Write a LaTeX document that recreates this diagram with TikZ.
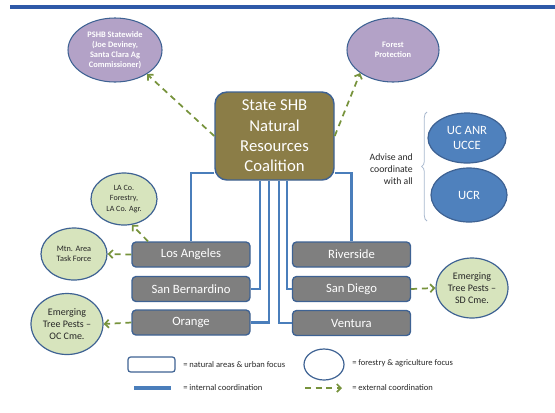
\documentclass[tikz,border=0pt]{standalone}
\usepackage{fontspec}
\setmainfont{Carlito}
\usetikzlibrary{shapes.geometric,arrows.meta,decorations.pathreplacing}
\definecolor{olive}{HTML}{8B7D47}
\definecolor{boxgray}{HTML}{7F7F7F}
\definecolor{edgeblue}{HTML}{3E6293}
\definecolor{linkblue}{HTML}{4A7EBB}
\definecolor{ucblue}{HTML}{4F81BD}
\definecolor{extgreen}{HTML}{77933C}
\definecolor{lightgreen}{HTML}{D7E4BD}
\definecolor{lilac}{HTML}{B3A2C7}
\definecolor{barblue}{HTML}{2E59A8}
\definecolor{txtdark}{HTML}{262626}
\tikzset{
  coalbox/.style={draw=edgeblue,line width=1.1pt,fill=olive,rounded corners=9pt,
    minimum width=89.25pt,minimum height=66pt,text=white,align=center,inner sep=0pt,
    font=\fontsize{12.5}{15.2}\selectfont},
  county/.style={draw=edgeblue,line width=1pt,fill=boxgray,rounded corners=3pt,
    minimum width=88.5pt,minimum height=18.75pt,text=white,inner sep=0pt,
    font=\fontsize{9.5}{11}\selectfont},
  greenell/.style={ellipse,draw=edgeblue,line width=0.9pt,fill=lightgreen,inner sep=0pt,
    align=center,text=txtdark},
  lilacell/.style={ellipse,draw=edgeblue,line width=0.8pt,fill=lilac,inner sep=0pt,
    align=center,text=white,minimum width=70pt,minimum height=48pt,
    font=\bfseries\fontsize{6.3}{7.6}\selectfont},
  ucell/.style={ellipse,draw=edgeblue,line width=0.9pt,fill=ucblue,inner sep=0pt,
    align=center,text=white,font=\fontsize{9.5}{11.25}\selectfont},
  blueline/.style={draw=linkblue,line width=2pt},
  extarrow/.style={draw=extgreen,line width=1.3pt,dash pattern=on 4.5pt off 3.5pt,
    -{Straight Barb[length=3pt,width=6pt]}},
  legtext/.style={anchor=west,inner sep=0pt,text=txtdark,font=\fontsize{6.4}{7.5}\selectfont},
}
\begin{document}
\begin{tikzpicture}[x=0.75pt,y=-0.75pt]
\useasboundingbox (0,0) rectangle (555,412);
% top bar
\fill[barblue] (10,4.5) rectangle (555,8.5);

% central node
\node[coalbox] (coal) at (274.5,136) {State SHB\\Natural\\Resources\\Coalition};

% purple ellipses
\node[lilacell,minimum width=70.5pt,minimum height=48pt] (pshb) at (115,50)
  {PSHB Statewide\\(Joe Deviney,\\Santa Clara Ag\\Commissioner)};
\node[lilacell,minimum width=69pt,minimum height=48pt] (forest) at (393,50)
  {Forest\\Protection};

% UC ellipses
\node[ucell,minimum width=58.5pt,minimum height=37.5pt] (ucanr) at (467,138) {UC ANR\\UCCE};
\node[ucell,minimum width=57pt,minimum height=40.5pt] (ucr) at (469,195) {UCR};
\draw[draw=edgeblue!45,line width=0.6pt,decorate,decoration={brace,amplitude=4pt}]
  (427,221) -- (427,112);
\node[anchor=east,align=right,inner sep=0pt,text=txtdark,font=\fontsize{7.3}{9}\selectfont]
  (advise) at (413,169) {Advise and\\coordinate\\with all};

% county boxes
\node[county] (la) at (191,254.5) {Los Angeles};
\node[county] (sb) at (191,289) {San Bernardino};
\node[county] (or) at (191,322.5) {Orange};
\node[county] (rv) at (351.5,254.5) {Riverside};
\node[county] (sd) at (351.5,289) {San Diego};
\node[county] (vt) at (351.5,323) {Ventura};

% internal coordination
\draw[blueline] ([yshift=-27.75pt]coal.west) -| (la.north);
\draw[blueline] ([yshift=-27.75pt]coal.east) -| (rv.north);
\draw[blueline] ([xshift=-10.9pt]coal.south) |- (sb.east);
\draw[blueline] ([xshift=-4.1pt]coal.south) |- (or.east);
\draw[blueline] ([xshift=3.4pt]coal.south) |- (vt.west);
\draw[blueline] ([xshift=9.4pt]coal.south) |- (sd.west);

% green ellipses
\node[greenell,minimum width=49.5pt,minimum height=39pt,font=\fontsize{6}{7.8}\selectfont]
  (laco) at (124,199) {LA Co.\\Forestry,\\LA Co. Agr.};
\node[greenell,minimum width=49.5pt,minimum height=39pt,font=\fontsize{6.2}{8}\selectfont]
  (mtn) at (74,254) {Mtn. Area\\Task Force};
\node[greenell,minimum width=54pt,minimum height=45.75pt,font=\fontsize{7.5}{8.8}\selectfont]
  (oc) at (67,324) {Emerging\\Tree Pests --\\OC Cme.};
\node[greenell,minimum width=54pt,minimum height=45pt,font=\fontsize{7.5}{8.8}\selectfont]
  (sdell) at (472,288) {Emerging\\Tree Pests --\\SD Cme.};

% external coordination
\draw[extarrow] (coal.west) -- (pshb.323);
\draw[extarrow] (coal.east) -- (forest.215);
\draw[extarrow] ([xshift=-32.25pt]la.north) -- (laco.287);
\draw[extarrow] (la.west) -- (mtn.east);
\draw[extarrow] (or.west) -- (oc.east);
\draw[extarrow] (sd.east) -- (sdell.west);

% legend
\node[draw=edgeblue,line width=0.9pt,fill=white,rounded corners=2pt,minimum width=35.25pt,
  minimum height=11.25pt,inner sep=0pt] (lrect) at (151.5,364.5) {};
\node[legtext] (lrectt) at (183,365) {= natural areas \& urban focus};
\coordinate (lla) at (134,388);
\coordinate (llb) at (171,388);
\draw[draw=linkblue,line width=2.6pt] (lla) -- (llb);
\node[legtext] (llt) at (183,388) {= internal coordination};
\node[ellipse,draw=edgeblue,line width=0.9pt,fill=white,minimum width=30pt,
  minimum height=23.25pt,inner sep=0pt] (lell) at (324,364.5) {};
\node[legtext] (lellt) at (352,363) {= forestry \& agriculture focus};
\coordinate (lda) at (305,388);
\coordinate (ldb) at (342,388);
\draw[extarrow] (lda) -- (ldb);
\node[legtext] (ldt) at (352,388) {= external coordination};
\end{tikzpicture}
\end{document}
